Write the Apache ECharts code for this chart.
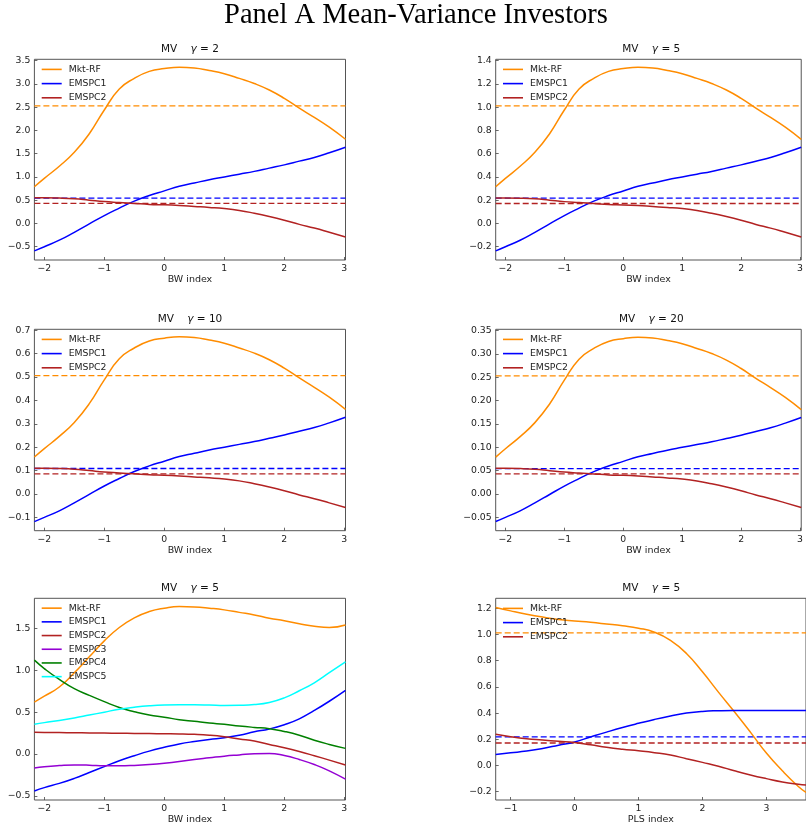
<!DOCTYPE html>
<html><head><meta charset="utf-8">
<script src="https://cdn.jsdelivr.net/npm/echarts@6/dist/echarts.min.js"></script>
<style>html,body{margin:0;padding:0;background:#fff}#c{width:806px;height:830px}</style>
</head><body><div id="c"></div>
<script>
// ---------- DATA ----------
const xBW  = [-2.165, -2.0, -1.75, -1.5, -1.25, -1.0, -0.75, -0.5, -0.25, 0, 0.25, 0.5, 0.75, 1.0, 1.25, 1.5, 1.75, 2.0, 2.25, 2.5, 2.75, 3.02];
const xPLS = [-1.234, -1.0, -0.75, -0.5, -0.25, 0, 0.25, 0.5, 0.75, 1.0, 1.25, 1.5, 1.75, 2.0, 2.25, 2.5, 2.75, 3.0, 3.25, 3.5, 3.62];

// gamma = 2
const g2Mkt = [0.79, 0.97, 1.23, 1.53, 1.93, 2.44, 2.89, 3.12, 3.27, 3.33, 3.36, 3.345, 3.29, 3.22, 3.12, 3.01, 2.87, 2.69, 2.48, 2.28, 2.07, 1.81];
const g2E1  = [-0.59, -0.50, -0.36, -0.19, -0.01, 0.17, 0.33, 0.48, 0.60, 0.70, 0.80, 0.87, 0.94, 1.00, 1.06, 1.12, 1.19, 1.26, 1.34, 1.42, 1.52, 1.64];
const g2E2  = [0.55, 0.55, 0.545, 0.53, 0.50, 0.47, 0.45, 0.43, 0.41, 0.40, 0.385, 0.365, 0.345, 0.32, 0.28, 0.22, 0.15, 0.07, -0.02, -0.10, -0.19, -0.29];
const g2Bench = [2.53, 0.545, 0.43];

// gamma = 5
const g5Mkt = [0.316, 0.388, 0.492, 0.612, 0.772, 0.976, 1.156, 1.248, 1.308, 1.332, 1.344, 1.338, 1.316, 1.288, 1.248, 1.204, 1.148, 1.076, 0.992, 0.912, 0.828, 0.724];
const g5E1  = [-0.236, -0.2, -0.144, -0.076, -0.004, 0.068, 0.132, 0.192, 0.24, 0.28, 0.32, 0.348, 0.376, 0.4, 0.424, 0.448, 0.476, 0.504, 0.536, 0.568, 0.608, 0.656];
const g5E2  = [0.22, 0.22, 0.218, 0.212, 0.2, 0.188, 0.18, 0.172, 0.164, 0.16, 0.154, 0.146, 0.138, 0.128, 0.112, 0.088, 0.06, 0.028, -0.008, -0.04, -0.076, -0.116];
const g5Bench = [1.012, 0.218, 0.172];

// gamma = 10
const g10Mkt = [0.158, 0.194, 0.246, 0.306, 0.386, 0.488, 0.578, 0.624, 0.654, 0.666, 0.672, 0.669, 0.658, 0.644, 0.624, 0.602, 0.574, 0.538, 0.496, 0.456, 0.414, 0.362];
const g10E1  = [-0.118, -0.1, -0.072, -0.038, -0.002, 0.034, 0.066, 0.096, 0.12, 0.14, 0.16, 0.174, 0.188, 0.2, 0.212, 0.224, 0.238, 0.252, 0.268, 0.284, 0.304, 0.328];
const g10E2  = [0.11, 0.11, 0.109, 0.106, 0.1, 0.094, 0.09, 0.086, 0.082, 0.08, 0.077, 0.073, 0.069, 0.064, 0.056, 0.044, 0.03, 0.014, -0.004, -0.02, -0.038, -0.058];
const g10Bench = [0.506, 0.109, 0.086];

// gamma = 20
const g20Mkt = [0.079, 0.097, 0.123, 0.153, 0.193, 0.244, 0.289, 0.312, 0.327, 0.333, 0.336, 0.3345, 0.329, 0.322, 0.312, 0.301, 0.287, 0.269, 0.248, 0.228, 0.207, 0.181];
const g20E1  = [-0.059, -0.05, -0.036, -0.019, -0.001, 0.017, 0.033, 0.048, 0.06, 0.07, 0.08, 0.087, 0.094, 0.1, 0.106, 0.112, 0.119, 0.126, 0.134, 0.142, 0.152, 0.164];
const g20E2  = [0.055, 0.055, 0.0545, 0.053, 0.05, 0.047, 0.045, 0.043, 0.041, 0.04, 0.0385, 0.0365, 0.0345, 0.032, 0.028, 0.022, 0.015, 0.007, -0.002, -0.01, -0.019, -0.029];
const g20Bench = [0.253, 0.0545, 0.043];

// gamma = 5, five PCs, BW index
const p5Mkt = [0.62, 0.69, 0.80, 0.97, 1.16, 1.35, 1.51, 1.625, 1.70, 1.74, 1.76, 1.755, 1.74, 1.72, 1.69, 1.66, 1.62, 1.59, 1.555, 1.525, 1.51, 1.54];
const p5E1  = [-0.44, -0.40, -0.35, -0.29, -0.22, -0.15, -0.08, -0.02, 0.035, 0.08, 0.12, 0.15, 0.175, 0.195, 0.225, 0.265, 0.30, 0.35, 0.42, 0.52, 0.63, 0.76];
const p5E2  = [0.26, 0.258, 0.256, 0.254, 0.252, 0.25, 0.248, 0.246, 0.244, 0.242, 0.24, 0.235, 0.225, 0.207, 0.18, 0.155, 0.115, 0.075, 0.03, -0.02, -0.072, -0.13];
const p5E3  = [-0.165, -0.15, -0.137, -0.13, -0.133, -0.14, -0.14, -0.135, -0.125, -0.11, -0.09, -0.065, -0.045, -0.025, -0.01, 0.004, 0.007, -0.018, -0.065, -0.125, -0.2, -0.30];
const p5E4  = [1.12, 1.02, 0.89, 0.78, 0.70, 0.625, 0.555, 0.505, 0.465, 0.44, 0.41, 0.39, 0.37, 0.355, 0.335, 0.318, 0.303, 0.27, 0.225, 0.165, 0.115, 0.068];
const p5E5  = [0.355, 0.375, 0.40, 0.43, 0.465, 0.50, 0.535, 0.558, 0.575, 0.585, 0.588, 0.588, 0.585, 0.58, 0.582, 0.59, 0.615, 0.67, 0.755, 0.85, 0.97, 1.10];

// gamma = 5, PLS index
const p6Mkt = [1.205, 1.18, 1.155, 1.133, 1.114, 1.103, 1.093, 1.08, 1.066, 1.048, 1.017, 0.955, 0.855, 0.715, 0.56, 0.41, 0.255, 0.095, -0.04, -0.16, -0.205];
const p6E1  = [0.085, 0.097, 0.11, 0.13, 0.155, 0.18, 0.218, 0.255, 0.29, 0.322, 0.352, 0.378, 0.400, 0.413, 0.418, 0.42, 0.42, 0.42, 0.42, 0.42, 0.42];
const p6E2  = [0.238, 0.22, 0.205, 0.195, 0.185, 0.175, 0.158, 0.139, 0.124, 0.112, 0.098, 0.08, 0.052, 0.024, -0.005, -0.04, -0.072, -0.1, -0.125, -0.143, -0.149];
const p6Bench = [1.012, 0.218, 0.172];

// tick labels
const xTicksBW  = [-2, -1, 0, 1, 2, 3];
const xTicksPLS = [-1, 0, 1, 2, 3];
const yT2  = [-0.5, 0.0, 0.5, 1.0, 1.5, 2.0, 2.5, 3.0, 3.5];
const yT5  = [-0.2, 0.0, 0.2, 0.4, 0.6, 0.8, 1.0, 1.2, 1.4];
const yT10 = [-0.1, 0.0, 0.1, 0.2, 0.3, 0.4, 0.5, 0.6, 0.7];
const yT20 = [-0.05, 0.00, 0.05, 0.10, 0.15, 0.20, 0.25, 0.30, 0.35];
const yTP5 = [-0.5, 0.0, 0.5, 1.0, 1.5];
const yTP6 = [-0.2, 0.0, 0.2, 0.4, 0.6, 0.8, 1.0, 1.2];

const names3 = ['Mkt-RF', 'EMSPC1', 'EMSPC2'];
const names6 = ['Mkt-RF', 'EMSPC1', 'EMSPC2', 'EMSPC3', 'EMSPC4', 'EMSPC5'];
const mainTitle = 'Panel A Mean-Variance Investors';

// ---------- LAYOUT / STYLE ----------
const COLORS = ['#ff8c00', '#0000ff', '#b22222', '#9400d3', '#008000', '#00ffff'];
const FONT = 'DejaVu Sans';
const colLeft = [34.4, 495.7], colW = 311.1;
const rowTop = [59.3, 329.3, 598.3], rowH = [200.7, 201.4, 201.7];

const panels = [
  {c:0, r:0, x:xBW,  xr:[-2.165, 3.02], yr:[-0.786, 3.53],   xt:xTicksBW,  yt:yT2,  dec:1, g:'2',  xn:'BW index',  names:names3, ys:[g2Mkt, g2E1, g2E2],   bench:g2Bench},
  {c:1, r:0, x:xBW,  xr:[-2.165, 3.02], yr:[-0.314, 1.412],  xt:xTicksBW,  yt:yT5,  dec:1, g:'5',  xn:'BW index',  names:names3, ys:[g5Mkt, g5E1, g5E2],   bench:g5Bench},
  {c:0, r:1, x:xBW,  xr:[-2.165, 3.02], yr:[-0.157, 0.704],  xt:xTicksBW,  yt:yT10, dec:1, g:'10', xn:'BW index',  names:names3, ys:[g10Mkt, g10E1, g10E2], bench:g10Bench},
  {c:1, r:1, x:xBW,  xr:[-2.165, 3.02], yr:[-0.0786, 0.353], xt:xTicksBW,  yt:yT20, dec:2, g:'20', xn:'BW index',  names:names3, ys:[g20Mkt, g20E1, g20E2], bench:g20Bench},
  {c:0, r:2, x:xBW,  xr:[-2.165, 3.02], yr:[-0.548, 1.858],  xt:xTicksBW,  yt:yTP5, dec:1, g:'5',  xn:'BW index',  names:names6, ys:[p5Mkt, p5E1, p5E2, p5E3, p5E4, p5E5], bench:null},
  {c:1, r:2, x:xPLS, xr:[-1.234, 3.62], yr:[-0.263, 1.276],  xt:xTicksPLS, yt:yTP6, dec:1, g:'5',  xn:'PLS index', names:names3, ys:[p6Mkt, p6E1, p6E2],   bench:p6Bench}
];

function fmt(v, d) {
  const s = Math.abs(v).toFixed(d);
  return (v < 0 && Number(s) !== 0 ? '\u2212' : '') + s;
}

const grid = [], xAxis = [], yAxis = [], series = [], legend = [], graphic = [];
graphic.push({type:'text', x:416, y:15.5, style:{text:mainTitle, align:'center', verticalAlign:'middle',
  fontFamily:'Liberation Serif', fontSize:28.5, fill:'#000'}});

panels.forEach((p, i) => {
  const left = colLeft[p.c], top = rowTop[p.r], h = rowH[p.r];
  grid.push({left:left, top:top, width:colW, height:h, show:true, borderColor:'#555', borderWidth:1, backgroundColor:'transparent', containLabel:false});
  xAxis.push({type:'value', gridIndex:i, min:p.xr[0], max:p.xr[1], position:'bottom',
    name:p.xn, nameLocation:'middle', nameGap:15,
    nameTextStyle:{fontFamily:FONT, fontSize:9.5, color:'#222', verticalAlign:'top'},
    axisLine:{show:false, onZero:false}, splitLine:{show:false},
    axisTick:{show:true, inside:true, length:3, customValues:p.xt, lineStyle:{color:'#444', width:0.8}},
    axisLabel:{customValues:p.xt, margin:4, fontFamily:FONT, fontSize:9.3, color:'#222', formatter:v => fmt(v, 0)}});
  yAxis.push({type:'value', gridIndex:i, min:p.yr[0], max:p.yr[1], position:'left',
    axisLine:{show:false, onZero:false}, splitLine:{show:false},
    axisTick:{show:true, inside:true, length:3, customValues:p.yt, lineStyle:{color:'#444', width:0.8}},
    axisLabel:{customValues:p.yt, margin:4, fontFamily:FONT, fontSize:9.3, color:'#222', formatter:v => fmt(v, p.dec)}});
  p.ys.forEach((ys, k) => {
    series.push({type:'line', name:p.names[k], xAxisIndex:i, yAxisIndex:i, color:COLORS[k],
      data:p.x.map((xv, j) => [xv, ys[j]]), showSymbol:false, smooth:0.5, clip:true,
      lineStyle:{width:1.5, color:COLORS[k]}, silent:true, z:3});
  });
  if (p.bench) {
    p.bench.forEach((b, k) => {
      series.push({type:'line', xAxisIndex:i, yAxisIndex:i, color:COLORS[k],
        data:[[p.xr[0], b], [p.xr[1], b]], showSymbol:false, clip:true,
        lineStyle:{width:1.3, color:COLORS[k], type:[6, 3]}, silent:true, z:2});
    });
  }
  legend.push({data:p.names, orient:'vertical', left:left + 7.3, top:top + 3, padding:0,
    itemWidth:20, itemHeight:1.6, icon:'rect', itemGap:0, selectedMode:false,
    textStyle:{fontFamily:FONT, fontSize:9.3, lineHeight:p.names.length > 3 ? 13.7 : 14.2, color:'#222', padding:[0,0,0,2]}});
  graphic.push({type:'text', x:left + colW / 2, y:top - 10, style:{
    text:'{n|MV}    {g|\u03b3}{n| = ' + p.g + '}', align:'center', verticalAlign:'middle',
    fontFamily:FONT, fontSize:10.5, fill:'#111',
    rich:{n:{fontFamily:FONT, fontSize:10.5, fill:'#111'}, g:{fontFamily:'DejaVu Sans', fontStyle:'italic', fontSize:10.5, fill:'#111'}}}});
});

const chart = echarts.init(document.getElementById('c'), null, {renderer:'canvas'});
chart.setOption({animation:false, backgroundColor:'#fff', grid, xAxis, yAxis, series, legend, graphic});
</script></body></html>
